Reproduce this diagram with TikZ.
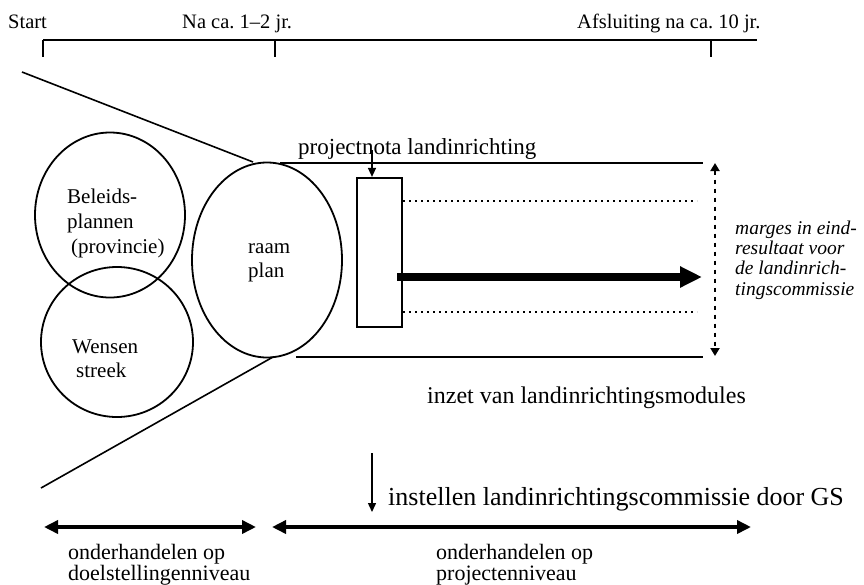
\documentclass[tikz,border=0pt]{standalone}
\usepackage{fontspec}
\setmainfont{Liberation Serif}
\usetikzlibrary{arrows.meta,shapes.geometric}
\begin{document}
\frenchspacing
\begin{tikzpicture}[x=1pt,y=-1pt,
  lbl/.style={anchor=base west,inner sep=0pt,font=\fontsize{20.5}{24}\selectfont},
  clbl/.style={anchor=base west,inner sep=0pt,font=\fontsize{21}{25}\selectfont},
  blbl/.style={anchor=base west,inner sep=0pt,font=\fontsize{22}{26}\selectfont},
  lblit/.style={anchor=base west,inner sep=0pt,font=\fontsize{19.5}{23}\selectfont\itshape},
  oval/.style={draw,ellipse,line width=1.8pt,inner sep=0pt},
  thin/.style={line width=1.6pt},
  bar/.style={line width=2.6pt},
  dbl/.style={line width=4pt,{Triangle[length=14pt,width=13pt]}-{Triangle[length=14pt,width=13pt]}},
  smallarrow/.style={line width=1.4pt,-{Triangle[length=9pt,width=8pt]}},
  marge/.style={line width=2.4pt,dash pattern=on 4pt off 5pt,{Triangle[length=8pt,width=9pt]}-{Triangle[length=8pt,width=9pt]}}
]
\useasboundingbox (0,0) rectangle (864,584);

% time line
\coordinate (t0) at (43,40);
\coordinate (t1) at (275,40);
\coordinate (t2) at (711,40);
\coordinate (tend) at (757,40);
\coordinate (t0b) at (43,57);
\coordinate (t1b) at (275,57);
\coordinate (t2b) at (711,57);
\draw[bar] (t0) -- (tend);
\draw[thin] (t0) -- (t0b);
\draw[thin] (t1) -- (t1b);
\draw[thin] (t2) -- (t2b);
\node[lbl] (start) at (8,28) {Start};
\node[lbl] (na) at (182,28) {Na ca. 1--2 jr.};
\node[lbl] (afs) at (577,28) {Afsluiting na ca. 10 jr.};

% circles
\node[oval,minimum width=150pt,minimum height=165pt] (bel) at (110,215) {};
\node[oval,minimum width=152pt,minimum height=150pt] (wen) at (117,342) {};
\node[oval,minimum width=150pt,minimum height=195pt] (raam) at (267,260) {};
\node[clbl] (b1) at (67,203) {Beleids-};
\node[clbl] (b2) at (67,228) {plannen};
\node[clbl] (b3) at (71,253) {(provincie)};
\node[clbl] (w1) at (72,353) {Wensen};
\node[clbl] (w2) at (76,377) {streek};
\node[clbl] (r1) at (248,253) {raam};
\node[clbl] (r2) at (248,277) {plan};

% funnel
\coordinate (fa) at (22,72);
\coordinate (fb) at (253,162);
\coordinate (fc) at (41,488);
\coordinate (fd) at (273,357);
\draw[thin] (fa) -- (fb);
\draw[thin] (fc) -- (fd);

% project band
\coordinate (ha) at (280,163);
\coordinate (hb) at (703,163);
\coordinate (hc) at (296,357);
\coordinate (hd) at (703,357);
\draw[bar] (ha) -- (hb);
\draw[bar] (hc) -- (hd);
\coordinate (da) at (403,201);
\coordinate (db) at (697,201);
\coordinate (dc) at (403,312);
\coordinate (dd) at (697,312);
\draw[line width=1.2pt,dash pattern=on 2pt off 4pt] (da) -- (db);
\draw[line width=1.2pt,dash pattern=on 2pt off 4pt] (dc) -- (dd);

\node[draw,line width=2.2pt,minimum width=45pt,minimum height=149pt,inner sep=0pt] (nota) at (379.5,252.5) {};
\node[lbl,font=\fontsize{23}{27}\selectfont] (notalbl) at (298,154) {projectnota landinrichting};
\coordinate (na0) at (372,150);
\draw[smallarrow] (na0) -- (na0 |- nota.north);

\coordinate (thick) at (702,277);
\draw[line width=8pt,-{Triangle[length=22pt,width=20pt]}] (397,277) -- (thick);

\coordinate (ma) at (715,163);
\coordinate (mb) at (715,356);
\draw[marge] (ma) -- (mb);
\node[lblit] (m1) at (735,234) {marges in eind-};
\node[lblit] (m2) at (735,254) {resultaat voor};
\node[lblit] (m3) at (735,274.5) {de landinrich-};
\node[lblit] (m4) at (735,295) {tingscommissie};

\node[lbl,font=\fontsize{24}{28}\selectfont] (inzet) at (427,403) {inzet van landinrichtingsmodules};

% bottom
\coordinate (ia) at (372,453);
\coordinate (ib) at (372,512);
\draw[smallarrow] (ia) -- (ib);
\node[lbl,font=\fontsize{26}{30}\selectfont] (inst) at (388,505) {instellen landinrichtingscommissie door GS};

\coordinate (la) at (44,527);
\coordinate (lb) at (256,527);
\coordinate (ra) at (272,527);
\coordinate (rb) at (751,527);
\draw[dbl] (la) -- (lb);
\draw[dbl] (ra) -- (rb);
\node[blbl] (o1) at (68,559) {onderhandelen op};
\node[blbl] (o2) at (68,580) {doelstellingenniveau};
\node[blbl] (o3) at (436,559) {onderhandelen op};
\node[blbl] (o4) at (436,580) {projectenniveau};
\end{tikzpicture}
\end{document}
